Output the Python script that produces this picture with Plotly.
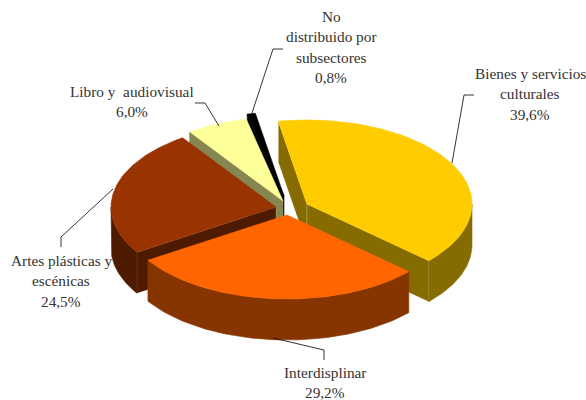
import math
import plotly.graph_objects as go

# ---- data ----
categories = ["Bienes y servicios culturales", "Interdisplinar", "Artes plásticas y escénicas",
              "Libro y audiovisual", "No distribuido por subsectores"]
shares = [39.6, 29.2, 24.5, 6.0, 0.8]
top_colors = ["#FFCC00", "#FF6600", "#993300", "#FFFF99", "#000000"]
wall_colors = ["#866B00", "#863500", "#4F1B00", "#868650", "#000000"]
edge_colors = ["rgba(255,255,255,0.35)", "#863500", "rgba(255,255,255,0.25)", "#868650", "#000000"]
label_lines = [["Bienes y servicios", "culturales", "39,6%"],
               ["Interdisplinar", "29,2%"],
               ["Artes plásticas y", "escénicas", "24,5%"],
               ["Libro y  audiovisual", "6,0%"],
               ["No", "distribuido por", "subsectores", "0,8%"]]

# ---- layout of the pie (pixel-like axis units) ----
RX, RY, DEPTH, START = 165, 84, 41, -10
APEX = [(307, 204), (287, 215), (276, 207), (283, 201), (284, 196)]  # exploded apex per slice
DRAW_ORDER = [4, 3, 0, 2, 1]
LABEL_X = [530, 325, 61, 132, 331]
LABEL_Y0 = [73, 372, 260, 91, 16]
LINE_STEP = 20.5
LEADERS = [[(474, 95), (464, 95), (452, 163)],
           [(273, 338), (324, 350), (324, 360)],
           [(61, 247), (61, 237), (113, 189)],
           [(195, 103), (205, 103), (219, 126)],
           [(283, 49), (273, 49), (252, 113)]]

total = sum(shares)
fig = go.Figure()


def pt(ax, ay, t):
    r = math.radians(t)
    return ax + RX * math.sin(r), ay - RY * math.cos(r)


def poly(xs, ys, color, edge):
    fig.add_trace(go.Scatter(x=xs, y=ys, mode="lines", fill="toself", fillcolor=color,
                             line=dict(color=edge, width=0.6), hoverinfo="skip", showlegend=False))


angles = []
a = START
for s in shares:
    b = a + s / total * 360
    angles.append((a, b))
    a = b

for i in DRAW_ORDER:
    ax, ay = APEX[i]
    t0, t1 = angles[i]
    # radial walls, only those that face the viewer
    for t, sign in ((t0, -1), (t1, 1)):
        if math.sin(math.radians(t)) * sign > 0:
            px, py = pt(ax, ay, t)
            poly([ax, px, px, ax, ax], [ay, py, py + DEPTH, ay + DEPTH, ay], wall_colors[i], edge_colors[i])
    # outer wall, only where the rim faces the viewer
    lo, hi = max(t0, 90), min(t1, 270)
    if hi > lo:
        ts = [lo + (hi - lo) * k / 60 for k in range(61)]
        top = [pt(ax, ay, t) for t in ts]
        xs = [p[0] for p in top] + [p[0] for p in reversed(top)] + [top[0][0]]
        ys = [p[1] for p in top] + [p[1] + DEPTH for p in reversed(top)] + [top[0][1]]
        poly(xs, ys, wall_colors[i], wall_colors[i])
    # top face
    ts = [t0 + (t1 - t0) * k / 80 for k in range(81)]
    arc = [pt(ax, ay, t) for t in ts]
    poly([ax] + [p[0] for p in arc] + [ax], [ay] + [p[1] for p in arc] + [ay], top_colors[i],
         top_colors[i])

for path in LEADERS:
    fig.add_trace(go.Scatter(x=[p[0] for p in path], y=[p[1] for p in path], mode="lines",
                             line=dict(color="#000000", width=0.8), hoverinfo="skip", showlegend=False))

for i, lines in enumerate(label_lines):
    for k, line in enumerate(lines):
        fig.add_annotation(x=LABEL_X[i], y=LABEL_Y0[i] + k * LINE_STEP, text=line, showarrow=False,
                           xanchor="center", yanchor="middle", borderpad=0, borderwidth=0,
                           font=dict(family="Liberation Serif", size=15.3, color="#333333"))

fig.update_layout(width=586, height=400, margin=dict(l=0, r=0, t=0, b=0), showlegend=False,
                  paper_bgcolor="#FFFFFF", plot_bgcolor="#FFFFFF",
                  xaxis=dict(range=[0, 586], visible=False, fixedrange=True),
                  yaxis=dict(range=[400, 0], visible=False, fixedrange=True))
fig.write_html("out.html", config={"displayModeBar": False},
               post_script="document.body.style.margin='0';document.body.style.overflow='hidden';")
